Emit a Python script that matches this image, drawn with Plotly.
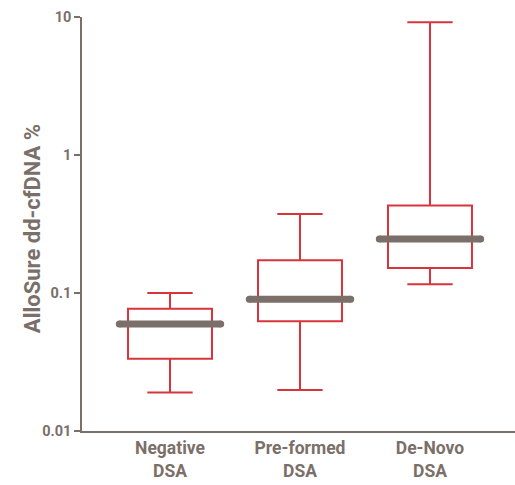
import plotly.graph_objects as go

categories = ["Negative<br>DSA", "Pre-formed<br>DSA", "De-Novo<br>DSA"]
lower = [0.019, 0.0198, 0.1156]
q1 = [0.0334, 0.0624, 0.152]
median = [0.0595, 0.090, 0.246]
q3 = [0.0769, 0.173, 0.43]
upper = [0.100, 0.373, 9.15]

RED = "#d7343c"
GRAY = "#7a6f69"
FONT = "Roboto, Arial"

xs = list(range(len(categories)))
fig = go.Figure()
fig.add_trace(go.Box(
    x=xs, q1=q1, median=median, q3=q3, lowerfence=lower, upperfence=upper,
    width=0.646, whiskerwidth=0.54, fillcolor="white",
    line=dict(color=RED, width=2), boxpoints=False, showlegend=False, hoverinfo="skip"))

half = 0.39
for i, m in enumerate(median):
    fig.add_trace(go.Scatter(
        x=[i - half, i + half], y=[m, m], mode="lines+markers",
        line=dict(color=GRAY, width=7), marker=dict(color=GRAY, size=7),
        showlegend=False, hoverinfo="skip"))

fig.add_annotation(
    text="AlloSure dd-cfDNA %", xref="paper", yref="paper",
    x=-0.1155, y=0.49, xanchor="center", yanchor="middle", textangle=-90,
    showarrow=False, font=dict(size=22, family=FONT, color=GRAY, weight="bold"))

fig.update_layout(
    width=515, height=485,
    margin=dict(l=82, r=0, t=17, b=54),
    plot_bgcolor="white", paper_bgcolor="white",
    font=dict(family=FONT, color=GRAY),
    xaxis=dict(range=[-0.677, 2.654], tickvals=xs, ticktext=categories,
               showgrid=False, zeroline=False, showline=True, linecolor=GRAY,
               linewidth=1.5, ticks="", tickfont=dict(size=17.5, family=FONT, color=GRAY, weight="bold")),
    yaxis=dict(type="log", range=[-2, 1], tickvals=[0.01, 0.1, 1, 10],
               ticktext=["0.01", "0.1", "1", "10"], showgrid=False, zeroline=False,
               showline=True, linecolor=GRAY, linewidth=1.5, ticks="outside",
               ticklen=6, tickcolor=GRAY, tickwidth=1.5,
               tickfont=dict(size=14.5, family=FONT, color=GRAY, weight="bold")),
)
fig.write_html("out.html")
